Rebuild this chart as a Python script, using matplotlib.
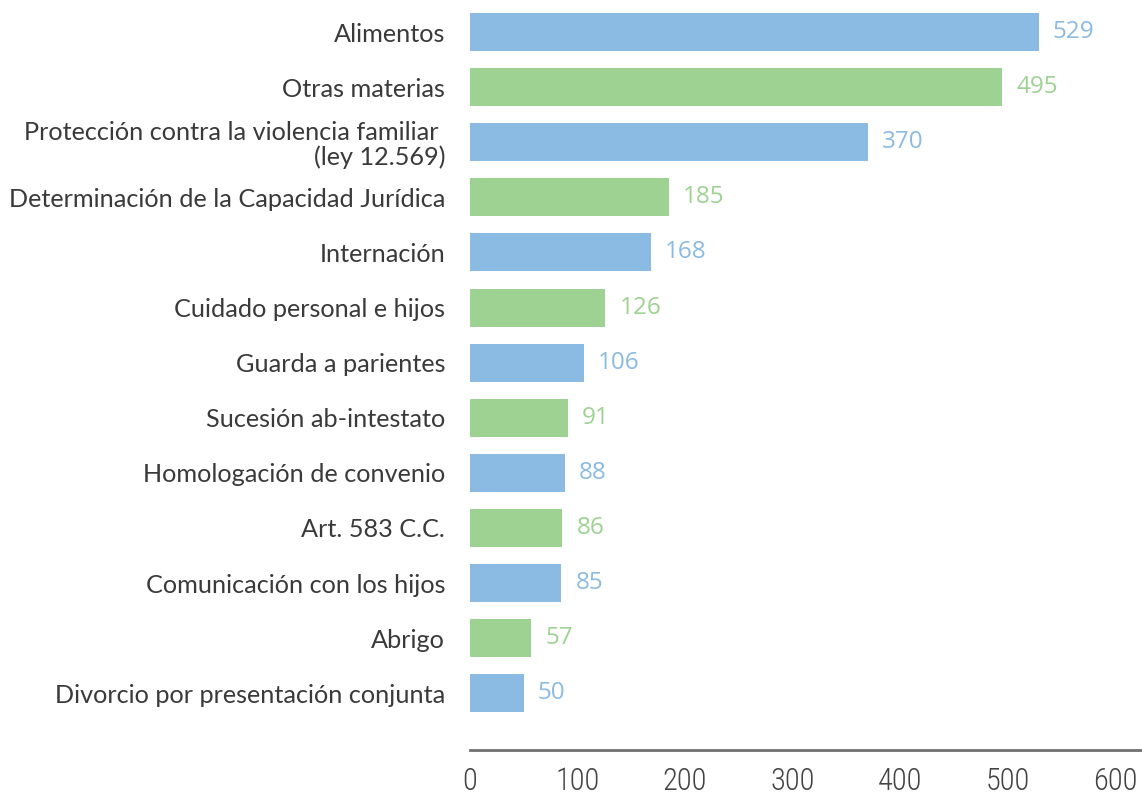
import matplotlib.pyplot as plt
import numpy as np

# categories, top to bottom
materias = [
    'Alimentos',
    'Otras materias',
    'Protección contra la violencia familiar \n(ley 12.569)',
    'Determinación de la Capacidad Jurídica',
    'Internación',
    'Cuidado personal e hijos',
    'Guarda a parientes',
    'Sucesión ab-intestato',
    'Homologación de convenio',
    'Art. 583 C.C.',
    'Comunicación con los hijos',
    'Abrigo',
    'Divorcio por presentación conjunta',
]
causas = [529, 495, 370, 185, 168, 126, 106, 91, 88, 86, 85, 57, 50]
xticks = [0, 100, 200, 300, 400, 500, 600]

azul = '#8BBAE2'
verde = '#9DD292'
colores = [azul if i % 2 == 0 else verde for i in range(len(causas))]

fig = plt.figure(figsize=(11.42, 7.96), dpi=100)
ax = fig.add_axes([470/1142, 1-750/796, 1-470/1142, 746/796])

y = np.arange(len(causas))
ax.barh(y, causas, height=0.69, color=colores)

for yi, v, c in zip(y, causas, colores):
    ax.annotate(str(v), (v, yi), xytext=(10, 0), textcoords='offset points',
                va='center', ha='left', fontsize=17.5, color=c, family='Open Sans')

ax.set_yticks(y)
ax.set_yticklabels(materias, fontsize=18.2, family='Lato', color='#3a3a3a',
                   ha='right', multialignment='right', linespacing=1.05)
ax.tick_params(axis='y', length=0, pad=18)
ax.set_ylim(13.03, -0.51)

ax.set_xlim(0, 625)
ax.set_xticks(xticks)
ax.set_xticklabels([str(t) for t in xticks], fontsize=22, fontweight='light',
                   family=['Liberation Sans Narrow', 'Roboto Condensed', 'Roboto'],
                   color='#444444')
ax.tick_params(axis='x', length=0, pad=12)

for s in ['top', 'right', 'left']:
    ax.spines[s].set_visible(False)
ax.spines['bottom'].set_color('#707070')
ax.spines['bottom'].set_linewidth(2)

fig.savefig('out.png', dpi=100)
